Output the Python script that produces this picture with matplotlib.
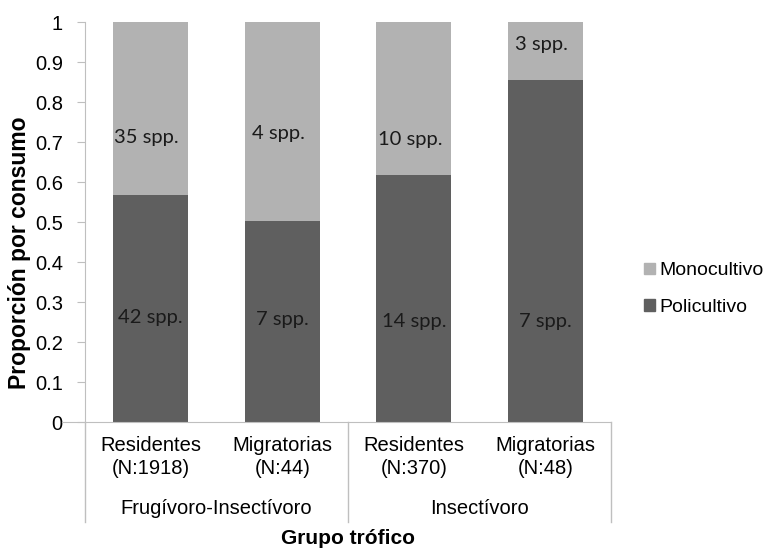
import matplotlib
matplotlib.use("Agg")
import matplotlib.pyplot as plt
import matplotlib.transforms as mtransforms
from matplotlib.patches import Patch

# datos
categorias = ["Residentes\n(N:1918)", "Migratorias\n(N:44)", "Residentes\n(N:370)", "Migratorias\n(N:48)"]
grupos = ["Frugívoro-Insectívoro", "Insectívoro"]
policultivo = [0.568, 0.502, 0.618, 0.855]
monocultivo = [1 - p for p in policultivo]
etiq_mono = ["35 spp.", "4 spp.", "10 spp.", "3 spp."]
etiq_poli = ["42 spp.", "7 spp.", "14 spp.", "7 spp."]
y_mono = [0.712, 0.722, 0.705, 0.943]
y_poli = [0.26, 0.255, 0.25, 0.25]

c_mono = "#B2B2B2"
c_poli = "#5F5F5F"
eje = "#BFBFBF"

plt.rcParams["font.family"] = ["Liberation Sans", "DejaVu Sans"]

fig = plt.figure(figsize=(7.73, 5.48), dpi=100)
ax = fig.add_axes([85 / 773, 1 - 422 / 548, (611 - 85) / 773, 400 / 548])

x = list(range(len(categorias)))
ax.bar(x, policultivo, width=0.57, color=c_poli, label="Policultivo")
ax.bar(x, monocultivo, width=0.57, bottom=policultivo, color=c_mono, label="Monocultivo")

for i in x:
    ax.text(i - 0.03, y_mono[i], etiq_mono[i], ha="center", va="center", fontsize=14.5, family="Lato", color="#1a1a1a")
    ax.text(i, y_poli[i], etiq_poli[i], ha="center", va="center", fontsize=14.5, family="Lato", color="#1a1a1a")

ax.set_xlim(-0.5, 3.5)
ax.set_ylim(0, 1)
ax.set_yticks([i / 10 for i in range(11)])
ax.set_yticklabels(["%g" % (i / 10) for i in range(11)], fontsize=14.5)
ax.set_xticks(x)
ax.set_xticklabels(categorias, fontsize=14.5, linespacing=1.3)
ax.tick_params(axis="x", length=0, pad=10)
ax.tick_params(axis="y", length=6, color=eje, pad=10)

for s in ["top", "right"]:
    ax.spines[s].set_visible(False)
ax.spines["left"].set_color(eje)
ax.spines["bottom"].set_color(eje)
ax.spines["bottom"].set_bounds(-0.5 - 23 / 131.7, 3.5)

# lineas de separacion de grupos
trans = mtransforms.blended_transform_factory(ax.transData, ax.transAxes)
for xs in [-0.5, 1.5, 3.5]:
    ax.plot([xs, xs], [0, -0.25], color=eje, lw=1, transform=trans, clip_on=False)
ax.text(0.5, -0.215, grupos[0], transform=trans, ha="center", va="center", fontsize=14.5)
ax.text(2.5, -0.215, grupos[1], transform=trans, ha="center", va="center", fontsize=14.5)

fig.text(20 / 773, 1 - 253 / 548, "Proporción por consumo", rotation=90, ha="center", va="center",
         fontsize=16.5, fontweight="bold")
fig.text(348 / 773, 1 - 538 / 548, "Grupo trófico", ha="center", va="center", fontsize=15, fontweight="bold")

handles = [Patch(color=c_mono), Patch(color=c_poli)]
fig.legend(handles, ["Monocultivo", "Policultivo"], loc="center left",
           bbox_to_anchor=(644 / 773, 1 - 289 / 548), frameon=False, fontsize=14,
           borderaxespad=0, borderpad=0,
           handlelength=0.55, handleheight=0.55, handletextpad=0.25, labelspacing=1.0)

fig.savefig("out.png", dpi=100)
